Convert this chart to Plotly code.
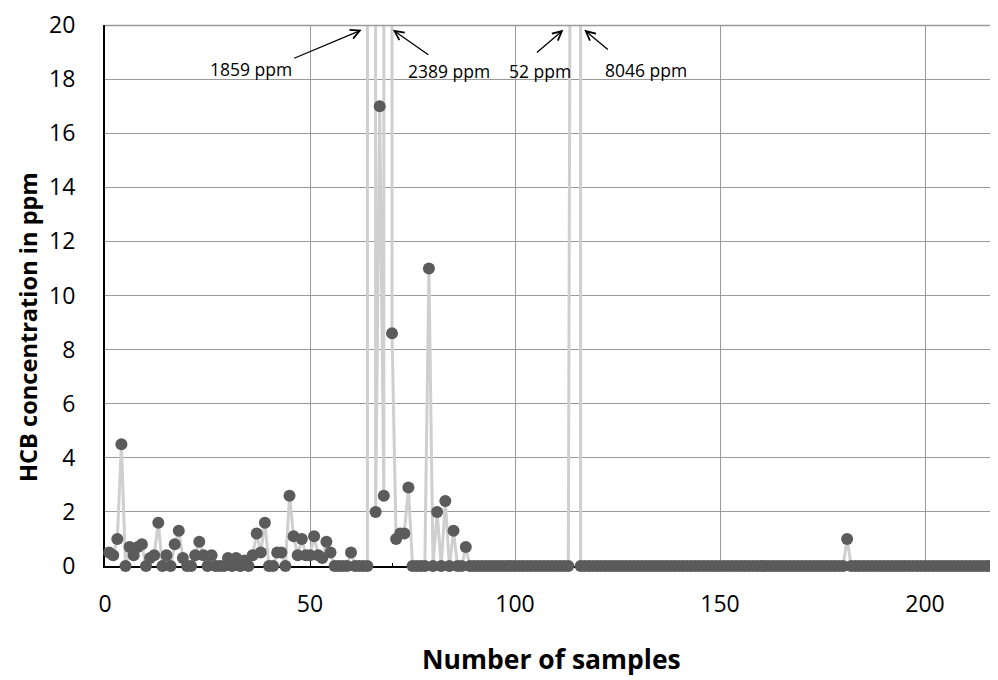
import plotly.graph_objects as go

# sample numbers and HCB concentrations (ppm)
samples = list(range(1, 221))

hcb_first = [0.5, 0.4, 1.0, 4.5, 0, 0.7, 0.4, 0.7, 0.8, 0,
             0.3, 0.4, 1.6, 0, 0.4, 0, 0.8, 1.3, 0.3, 0,
             0, 0.4, 0.9, 0.4, 0, 0.4, 0, 0, 0, 0.3,
             0, 0.3, 0, 0.2, 0, 0.4, 1.2, 0.5, 1.6, 0,
             0, 0.5, 0.5, 0, 2.6, 1.1, 0.4, 1.0, 0.4, 0.4,
             1.1, 0.4, 0.3, 0.9, 0.5, 0, 0, 0, 0, 0.5,
             0, 0, 0, 0, 1859, 2.0, 17, 2.6, 2389, 8.6,
             1.0, 1.2, 1.2, 2.9, 0, 0, 0, 0, 11, 0,
             2.0, 0, 2.4, 0, 1.3, 0, 0, 0.7, 0, 0]
hcb_mid = [0] * 23 + [52, 8046] + [0] * 65      # samples 91-180
hcb_last = [1.0] + [0] * 39                      # samples 181-220
hcb = hcb_first + hcb_mid + hcb_last

# off-scale values flagged with arrows
labels = ["1859 ppm", "2389 ppm", "52 ppm", "8046 ppm"]
label_x = [35.6, 83.9, 106.0, 131.9]
label_y = [18.38, 18.3, 18.3, 18.33]
arrow_x = [62.6, 70.2, 111.8, 116.9]
arrow_ax = [-69, 37, -28, 25]
arrow_ay = [29, 26, 24, 21]

FONT = "Open Sans"
GRID = "#9a9a9a"

fig = go.Figure()
fig.add_trace(go.Scatter(
    x=samples, y=hcb, mode="lines+markers",
    line=dict(color="#cfcfcf", width=3),
    marker=dict(color="#5b5b5b", size=12),
    cliponaxis=False, showlegend=False,
))

annotations = []
for t, lx, ly in zip(labels, label_x, label_y):
    annotations.append(dict(x=lx, y=ly, xref="x", yref="y", text=t,
                            showarrow=False, font=dict(family=FONT, size=17.5, color="black")))
for hx, ax, ay in zip(arrow_x, arrow_ax, arrow_ay):
    annotations.append(dict(x=hx, y=19.82, xref="x", yref="y", text="",
                            showarrow=True, ax=ax, ay=ay, arrowhead=5,
                            arrowsize=1.4, arrowwidth=1.3, arrowcolor="black"))

# axis titles
annotations.append(dict(x=0.5, y=-0.171, xref="paper", yref="paper",
                        text="<b>Number of samples</b>", showarrow=False,
                        yanchor="middle", font=dict(family=FONT, size=26.5, color="black")))
annotations.append(dict(x=-0.0861, y=0.442, xref="paper", yref="paper",
                        text="<b>HCB concentration in ppm</b>", showarrow=False,
                        textangle=-90, xanchor="center", yanchor="middle",
                        font=dict(family=FONT, size=23.6, color="black")))

# page body adds an 8px offset, so the figure is 8px smaller each way
fig.update_layout(
    width=990, height=672,
    margin=dict(l=97, r=0, t=15, b=114),
    paper_bgcolor="white", plot_bgcolor="white",
    font=dict(family=FONT, size=23, color="black"),
    annotations=annotations,
    # top gridline, drawn by hand since plotly drops the one on the range edge
    shapes=[dict(type="line", xref="paper", yref="paper", x0=0, x1=1, y0=0.999, y1=0.999,
                 line=dict(color=GRID, width=1.5), layer="above")],
)
fig.update_xaxes(
    range=[0, 217.8], dtick=50, tick0=0,
    showgrid=True, gridcolor=GRID, gridwidth=1,
    showline=True, linecolor="black", linewidth=2,
    ticks="inside", ticklen=5, tickcolor="black",
    minor=dict(dtick=10, ticks="inside", ticklen=3, tickcolor="black", showgrid=False),
    zeroline=False, layer="below traces",
    ticklabelstandoff=16,
)
fig.update_yaxes(
    range=[0, 20.0001], dtick=2, tick0=0,
    showgrid=True, gridcolor=GRID, gridwidth=1,
    showline=True, linecolor="black", linewidth=2,
    ticks="", zeroline=False, layer="below traces",
    ticklabelstandoff=23, ticklabeloverflow="allow",
)

fig.write_html("out.html")
